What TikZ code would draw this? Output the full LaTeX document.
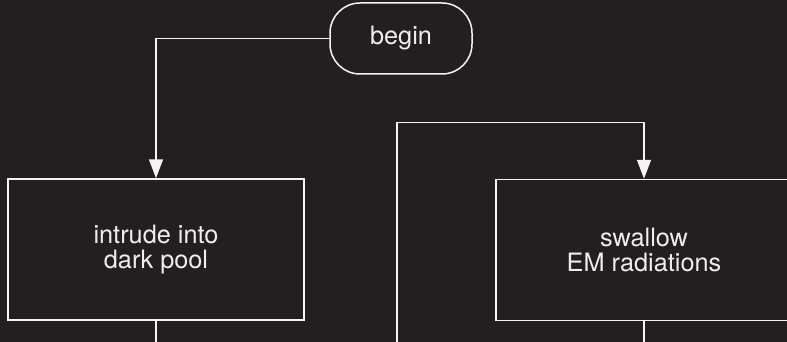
\documentclass[tikz,border=0pt]{standalone}
\usepackage{fontspec}
\setmainfont{TeX Gyre Heros}
\usetikzlibrary{arrows.meta,positioning}
\definecolor{FCBack}{HTML}{231F20}
\definecolor{FCLine}{HTML}{F4F4F4}
\definecolor{FCText}{HTML}{EEEEEE}
\tikzset{
  wire/.style={FCLine,line width=1.5pt},
  flow/.style={wire,-{Triangle[length=19pt,width=14pt]}},
  stepbox/.style={draw=FCLine,line width=1.5pt,minimum width=296pt,minimum height=141pt,
                  inner sep=0pt,text=FCText,align=center,font=\fontsize{25.3}{25.5}\selectfont},
  terminal/.style={stepbox,minimum width=142pt,minimum height=71pt,rounded corners=30pt},
}

\begin{document}
\begin{tikzpicture}[x=1pt,y=-1pt]
    \fill[FCBack] (0,0) rectangle (787,342);
    \useasboundingbox (0,0) rectangle (787,342);
    \node[terminal] (begin) at (401,38.5) {begin};
    \node[stepbox] (intrude) at (156,249.5) {intrude into\\dark pool};
    \node[stepbox] (swallow) at (644,250) {swallow\\EM radiations};
    % loose ends run off the bottom of the page
    \coordinate (intrudeout) at (156,350);
    \coordinate (swallowout) at (644,350);
    \coordinate (loopfoot) at (397,350);
    \coordinate (loopbend) at (397,122.5);
    \draw[flow] (begin.west) -| (intrude.north);
    \draw[wire] (intrude.south) -- (intrudeout);
    \draw[flow] (loopfoot) -- (loopbend) -| (swallow.north);
    \draw[wire] (swallow.south) -- (swallowout);
  \end{tikzpicture}
\end{document}
